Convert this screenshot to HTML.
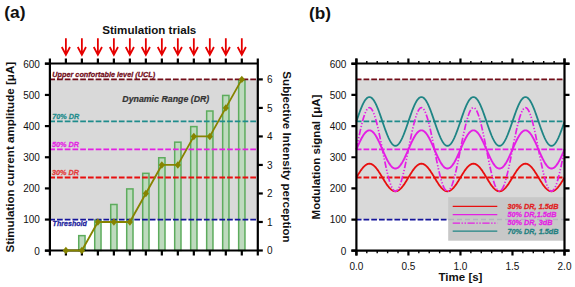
<!DOCTYPE html>
<html><head><meta charset="utf-8"><style>
html,body{margin:0;padding:0;background:#fff;}
body{width:575px;height:287px;overflow:hidden;}
svg{display:block;font-family:"Liberation Sans", sans-serif;}
</style></head><body>
<svg width="575" height="287" viewBox="0 0 575 287">
<rect x="49.9" y="79.36" width="207.90" height="140.20" fill="#d9d9d9"/>
<rect x="78.73" y="235.64" width="6.3" height="14.86" fill="#bedabe" stroke="#5dac5d" stroke-width="1.5"/>
<rect x="94.73" y="220.06" width="6.3" height="30.44" fill="#bedabe" stroke="#5dac5d" stroke-width="1.5"/>
<rect x="110.72" y="204.49" width="6.3" height="46.01" fill="#bedabe" stroke="#5dac5d" stroke-width="1.5"/>
<rect x="126.71" y="188.91" width="6.3" height="61.59" fill="#bedabe" stroke="#5dac5d" stroke-width="1.5"/>
<rect x="142.70" y="173.33" width="6.3" height="77.17" fill="#bedabe" stroke="#5dac5d" stroke-width="1.5"/>
<rect x="158.70" y="157.75" width="6.3" height="92.75" fill="#bedabe" stroke="#5dac5d" stroke-width="1.5"/>
<rect x="174.69" y="142.17" width="6.3" height="108.33" fill="#bedabe" stroke="#5dac5d" stroke-width="1.5"/>
<rect x="190.68" y="126.60" width="6.3" height="123.90" fill="#bedabe" stroke="#5dac5d" stroke-width="1.5"/>
<rect x="206.67" y="111.02" width="6.3" height="139.48" fill="#bedabe" stroke="#5dac5d" stroke-width="1.5"/>
<rect x="222.67" y="95.44" width="6.3" height="155.06" fill="#bedabe" stroke="#5dac5d" stroke-width="1.5"/>
<rect x="238.66" y="79.86" width="6.3" height="170.64" fill="#bedabe" stroke="#5dac5d" stroke-width="1.5"/>
<line x1="49.90" y1="79.36" x2="257.80" y2="79.36" stroke="#720c18" stroke-width="1.8" stroke-dasharray="5.7 2.03" stroke-dashoffset="0.6"/>
<line x1="49.90" y1="121.42" x2="257.80" y2="121.42" stroke="#1f8c8c" stroke-width="1.8" stroke-dasharray="5.7 2.03" stroke-dashoffset="0.6"/>
<line x1="49.90" y1="149.46" x2="257.80" y2="149.46" stroke="#e41fe4" stroke-width="1.8" stroke-dasharray="5.7 2.03" stroke-dashoffset="0.6"/>
<line x1="49.90" y1="177.50" x2="257.80" y2="177.50" stroke="#e80f0f" stroke-width="1.8" stroke-dasharray="5.7 2.03" stroke-dashoffset="0.6"/>
<line x1="49.90" y1="219.56" x2="257.80" y2="219.56" stroke="#14149a" stroke-width="1.8" stroke-dasharray="5.7 2.03" stroke-dashoffset="0.6"/>
<text x="0" y="0" font-size="7.3" fill="#720c18" font-weight="bold" font-style="italic" text-anchor="start" stroke="#720c18" stroke-width="0.25" transform="translate(52.30,77.00) scale(1,1.1)">Upper confortable level (UCL)</text>
<text x="0" y="0" font-size="8.8" fill="#333333" font-weight="bold" font-style="italic" text-anchor="start" stroke="#333333" stroke-width="0.2" transform="translate(122.30,102.30) scale(1,1.05)">Dynamic Range (DR)</text>
<text x="0" y="0" font-size="7.3" fill="#1f8c8c" font-weight="bold" font-style="italic" text-anchor="start" stroke="#1f8c8c" stroke-width="0.25" transform="translate(52.20,119.20) scale(1,1.1)">70% DR</text>
<text x="0" y="0" font-size="7.3" fill="#e41fe4" font-weight="bold" font-style="italic" text-anchor="start" stroke="#e41fe4" stroke-width="0.25" transform="translate(52.00,146.70) scale(1,1.1)">50% DR</text>
<text x="0" y="0" font-size="7.3" fill="#e43a3a" font-weight="bold" font-style="italic" text-anchor="start" stroke="#e43a3a" stroke-width="0.25" transform="translate(52.00,175.30) scale(1,1.1)">30% DR</text>
<text x="0" y="0" font-size="7.1" fill="#1c1c9c" font-weight="bold" font-style="italic" text-anchor="start" stroke="#1c1c9c" stroke-width="0.25" transform="translate(52.60,226.30) scale(1,1.1)">Threshold</text>
<g stroke="#000" stroke-width="2.2" fill="none">
<path d="M49.9,58.5 V255.5 M257.8,58.5 V255.5 M44.9,63.5 H257.8 M44.9,250.5 H257.8"/>
<path d="M44.9,250.72 H49.9"/>
<path d="M44.9,219.56 H49.9"/>
<path d="M44.9,188.41 H49.9"/>
<path d="M44.9,157.25 H49.9"/>
<path d="M44.9,126.10 H49.9"/>
<path d="M44.9,94.94 H49.9"/>
<path d="M44.9,63.78 H49.9"/>
<path d="M257.8,250.50 H262.8"/>
<path d="M257.8,221.98 H262.8"/>
<path d="M257.8,193.47 H262.8"/>
<path d="M257.8,164.95 H262.8"/>
<path d="M257.8,136.43 H262.8"/>
<path d="M257.8,107.92 H262.8"/>
<path d="M257.8,79.40 H262.8"/>
<path d="M65.89,58.5 V63.5 M65.89,250.5 V255.5"/>
<path d="M81.88,58.5 V63.5 M81.88,250.5 V255.5"/>
<path d="M97.88,58.5 V63.5 M97.88,250.5 V255.5"/>
<path d="M113.87,58.5 V63.5 M113.87,250.5 V255.5"/>
<path d="M129.86,58.5 V63.5 M129.86,250.5 V255.5"/>
<path d="M145.85,58.5 V63.5 M145.85,250.5 V255.5"/>
<path d="M161.85,58.5 V63.5 M161.85,250.5 V255.5"/>
<path d="M177.84,58.5 V63.5 M177.84,250.5 V255.5"/>
<path d="M193.83,58.5 V63.5 M193.83,250.5 V255.5"/>
<path d="M209.82,58.5 V63.5 M209.82,250.5 V255.5"/>
<path d="M225.82,58.5 V63.5 M225.82,250.5 V255.5"/>
<path d="M241.81,58.5 V63.5 M241.81,250.5 V255.5"/>
</g>
<polyline points="65.89,250.50 81.88,250.50 97.88,221.98 113.87,221.98 129.86,221.98 145.85,193.47 161.85,164.95 177.84,164.95 193.83,136.43 209.82,136.43 225.82,107.92 241.81,79.40" fill="none" stroke="#868400" stroke-width="1.8"/>
<path d="M65.89,246.80 L68.99,250.50 L65.89,254.20 L62.79,250.50 Z" fill="#868400"/>
<path d="M81.88,246.80 L84.98,250.50 L81.88,254.20 L78.78,250.50 Z" fill="#868400"/>
<path d="M97.88,218.28 L100.98,221.98 L97.88,225.68 L94.78,221.98 Z" fill="#868400"/>
<path d="M113.87,218.28 L116.97,221.98 L113.87,225.68 L110.77,221.98 Z" fill="#868400"/>
<path d="M129.86,218.28 L132.96,221.98 L129.86,225.68 L126.76,221.98 Z" fill="#868400"/>
<path d="M145.85,189.77 L148.95,193.47 L145.85,197.17 L142.75,193.47 Z" fill="#868400"/>
<path d="M161.85,161.25 L164.95,164.95 L161.85,168.65 L158.75,164.95 Z" fill="#868400"/>
<path d="M177.84,161.25 L180.94,164.95 L177.84,168.65 L174.74,164.95 Z" fill="#868400"/>
<path d="M193.83,132.73 L196.93,136.43 L193.83,140.13 L190.73,136.43 Z" fill="#868400"/>
<path d="M209.82,132.73 L212.92,136.43 L209.82,140.13 L206.72,136.43 Z" fill="#868400"/>
<path d="M225.82,104.22 L228.92,107.92 L225.82,111.62 L222.72,107.92 Z" fill="#868400"/>
<path d="M241.81,75.70 L244.91,79.40 L241.81,83.10 L238.71,79.40 Z" fill="#868400"/>
<text x="39.90" y="254.52" font-size="10" fill="#111" font-weight="normal" font-style="normal" text-anchor="end" >0</text>
<text x="39.90" y="223.36" font-size="10" fill="#111" font-weight="normal" font-style="normal" text-anchor="end" >100</text>
<text x="39.90" y="192.21" font-size="10" fill="#111" font-weight="normal" font-style="normal" text-anchor="end" >200</text>
<text x="39.90" y="161.05" font-size="10" fill="#111" font-weight="normal" font-style="normal" text-anchor="end" >300</text>
<text x="39.90" y="129.90" font-size="10" fill="#111" font-weight="normal" font-style="normal" text-anchor="end" >400</text>
<text x="39.90" y="98.74" font-size="10" fill="#111" font-weight="normal" font-style="normal" text-anchor="end" >500</text>
<text x="39.90" y="67.58" font-size="10" fill="#111" font-weight="normal" font-style="normal" text-anchor="end" >600</text>
<text x="266.90" y="254.10" font-size="10" fill="#111" font-weight="normal" font-style="normal" text-anchor="start" >0</text>
<text x="266.90" y="225.58" font-size="10" fill="#111" font-weight="normal" font-style="normal" text-anchor="start" >1</text>
<text x="266.90" y="197.07" font-size="10" fill="#111" font-weight="normal" font-style="normal" text-anchor="start" >2</text>
<text x="266.90" y="168.55" font-size="10" fill="#111" font-weight="normal" font-style="normal" text-anchor="start" >3</text>
<text x="266.90" y="140.03" font-size="10" fill="#111" font-weight="normal" font-style="normal" text-anchor="start" >4</text>
<text x="266.90" y="111.52" font-size="10" fill="#111" font-weight="normal" font-style="normal" text-anchor="start" >5</text>
<text x="266.90" y="83.00" font-size="10" fill="#111" font-weight="normal" font-style="normal" text-anchor="start" >6</text>
<g stroke="#e60000" stroke-width="1.8" fill="none" stroke-linecap="butt">
<path d="M65.89,38.3 V54.5 M61.79,47.0 L65.89,54.8 L69.99,47.0"/>
<path d="M81.88,38.3 V54.5 M77.78,47.0 L81.88,54.8 L85.98,47.0"/>
<path d="M97.88,38.3 V54.5 M93.78,47.0 L97.88,54.8 L101.98,47.0"/>
<path d="M113.87,38.3 V54.5 M109.77,47.0 L113.87,54.8 L117.97,47.0"/>
<path d="M129.86,38.3 V54.5 M125.76,47.0 L129.86,54.8 L133.96,47.0"/>
<path d="M145.85,38.3 V54.5 M141.75,47.0 L145.85,54.8 L149.95,47.0"/>
<path d="M161.85,38.3 V54.5 M157.75,47.0 L161.85,54.8 L165.95,47.0"/>
<path d="M177.84,38.3 V54.5 M173.74,47.0 L177.84,54.8 L181.94,47.0"/>
<path d="M193.83,38.3 V54.5 M189.73,47.0 L193.83,54.8 L197.93,47.0"/>
<path d="M209.82,38.3 V54.5 M205.72,47.0 L209.82,54.8 L213.92,47.0"/>
<path d="M225.82,38.3 V54.5 M221.72,47.0 L225.82,54.8 L229.92,47.0"/>
<path d="M241.81,38.3 V54.5 M237.71,47.0 L241.81,54.8 L245.91,47.0"/>
</g>
<text x="149.30" y="33.80" font-size="11.6" fill="#111" font-weight="bold" font-style="normal" text-anchor="middle" >Stimulation trials</text>
<text x="0.00" y="0.00" font-size="11.6" fill="#111" font-weight="bold" font-style="normal" text-anchor="middle" transform="translate(14.2,157.2) rotate(-90)">Stimulation current amplitude [&#956;A]</text>
<text x="0.00" y="0.00" font-size="11.6" fill="#111" font-weight="bold" font-style="normal" text-anchor="middle" transform="translate(282.6,157) rotate(90)">Subjective Intensity perception</text>
<text x="4.20" y="18.30" font-size="17.4" fill="#111" font-weight="bold" font-style="normal" text-anchor="start" >(a)</text>
<rect x="356.4" y="79.36" width="208.10" height="140.20" fill="#d9d9d9"/>
<line x1="356.40" y1="79.36" x2="564.50" y2="79.36" stroke="#720c18" stroke-width="1.8" stroke-dasharray="5.7 2.03" stroke-dashoffset="0.6"/>
<line x1="356.40" y1="121.42" x2="564.50" y2="121.42" stroke="#1f8c8c" stroke-width="1.8" stroke-dasharray="5.7 2.03" stroke-dashoffset="0.6"/>
<line x1="356.40" y1="149.46" x2="564.50" y2="149.46" stroke="#e41fe4" stroke-width="1.8" stroke-dasharray="5.7 2.03" stroke-dashoffset="0.6"/>
<line x1="356.40" y1="177.50" x2="564.50" y2="177.50" stroke="#e80f0f" stroke-width="1.8" stroke-dasharray="5.7 2.03" stroke-dashoffset="0.6"/>
<line x1="356.40" y1="219.56" x2="564.50" y2="219.56" stroke="#14149a" stroke-width="1.8" stroke-dasharray="5.7 2.03" stroke-dashoffset="0.6"/>
<path d="M356.40,177.50 L356.92,176.64 L357.44,175.77 L357.96,174.92 L358.48,174.07 L359.00,173.24 L359.52,172.42 L360.04,171.63 L360.56,170.85 L361.08,170.11 L361.60,169.39 L362.12,168.71 L362.64,168.06 L363.16,167.44 L363.68,166.87 L364.20,166.34 L364.72,165.85 L365.24,165.41 L365.76,165.02 L366.28,164.67 L366.80,164.38 L367.33,164.14 L367.85,163.95 L368.37,163.81 L368.89,163.73 L369.41,163.70 L369.93,163.73 L370.45,163.81 L370.97,163.95 L371.49,164.14 L372.01,164.38 L372.53,164.67 L373.05,165.02 L373.57,165.41 L374.09,165.85 L374.61,166.34 L375.13,166.87 L375.65,167.44 L376.17,168.06 L376.69,168.71 L377.21,169.39 L377.73,170.11 L378.25,170.85 L378.77,171.63 L379.29,172.42 L379.81,173.24 L380.33,174.07 L380.85,174.92 L381.37,175.77 L381.89,176.64 L382.41,177.50 L382.93,178.37 L383.45,179.23 L383.97,180.09 L384.49,180.94 L385.01,181.77 L385.53,182.58 L386.05,183.38 L386.57,184.15 L387.09,184.90 L387.62,185.62 L388.14,186.30 L388.66,186.95 L389.18,187.56 L389.70,188.14 L390.22,188.67 L390.74,189.16 L391.26,189.60 L391.78,189.99 L392.30,190.34 L392.82,190.63 L393.34,190.87 L393.86,191.06 L394.38,191.20 L394.90,191.28 L395.42,191.30 L395.94,191.28 L396.46,191.20 L396.98,191.06 L397.50,190.87 L398.02,190.63 L398.54,190.34 L399.06,189.99 L399.58,189.60 L400.10,189.16 L400.62,188.67 L401.14,188.14 L401.66,187.56 L402.18,186.95 L402.70,186.30 L403.22,185.62 L403.74,184.90 L404.26,184.15 L404.78,183.38 L405.30,182.58 L405.82,181.77 L406.34,180.94 L406.86,180.09 L407.38,179.23 L407.90,178.37 L408.42,177.50 L408.95,176.64 L409.47,175.77 L409.99,174.92 L410.51,174.07 L411.03,173.24 L411.55,172.42 L412.07,171.63 L412.59,170.85 L413.11,170.11 L413.63,169.39 L414.15,168.71 L414.67,168.06 L415.19,167.44 L415.71,166.87 L416.23,166.34 L416.75,165.85 L417.27,165.41 L417.79,165.02 L418.31,164.67 L418.83,164.38 L419.35,164.14 L419.87,163.95 L420.39,163.81 L420.91,163.73 L421.43,163.70 L421.95,163.73 L422.47,163.81 L422.99,163.95 L423.51,164.14 L424.03,164.38 L424.55,164.67 L425.07,165.02 L425.59,165.41 L426.11,165.85 L426.63,166.34 L427.15,166.87 L427.67,167.44 L428.19,168.06 L428.71,168.71 L429.24,169.39 L429.76,170.11 L430.28,170.85 L430.80,171.63 L431.32,172.42 L431.84,173.24 L432.36,174.07 L432.88,174.92 L433.40,175.77 L433.92,176.64 L434.44,177.50 L434.96,178.37 L435.48,179.23 L436.00,180.09 L436.52,180.94 L437.04,181.77 L437.56,182.58 L438.08,183.38 L438.60,184.15 L439.12,184.90 L439.64,185.62 L440.16,186.30 L440.68,186.95 L441.20,187.56 L441.72,188.14 L442.24,188.67 L442.76,189.16 L443.28,189.60 L443.80,189.99 L444.32,190.34 L444.84,190.63 L445.36,190.87 L445.88,191.06 L446.40,191.20 L446.92,191.28 L447.44,191.30 L447.96,191.28 L448.48,191.20 L449.00,191.06 L449.52,190.87 L450.04,190.63 L450.57,190.34 L451.09,189.99 L451.61,189.60 L452.13,189.16 L452.65,188.67 L453.17,188.14 L453.69,187.56 L454.21,186.95 L454.73,186.30 L455.25,185.62 L455.77,184.90 L456.29,184.15 L456.81,183.38 L457.33,182.58 L457.85,181.77 L458.37,180.94 L458.89,180.09 L459.41,179.23 L459.93,178.37 L460.45,177.50 L460.97,176.64 L461.49,175.77 L462.01,174.92 L462.53,174.07 L463.05,173.24 L463.57,172.42 L464.09,171.63 L464.61,170.85 L465.13,170.11 L465.65,169.39 L466.17,168.71 L466.69,168.06 L467.21,167.44 L467.73,166.87 L468.25,166.34 L468.77,165.85 L469.29,165.41 L469.81,165.02 L470.33,164.67 L470.86,164.38 L471.38,164.14 L471.90,163.95 L472.42,163.81 L472.94,163.73 L473.46,163.70 L473.98,163.73 L474.50,163.81 L475.02,163.95 L475.54,164.14 L476.06,164.38 L476.58,164.67 L477.10,165.02 L477.62,165.41 L478.14,165.85 L478.66,166.34 L479.18,166.87 L479.70,167.44 L480.22,168.06 L480.74,168.71 L481.26,169.39 L481.78,170.11 L482.30,170.85 L482.82,171.63 L483.34,172.42 L483.86,173.24 L484.38,174.07 L484.90,174.92 L485.42,175.77 L485.94,176.64 L486.46,177.50 L486.98,178.37 L487.50,179.23 L488.02,180.09 L488.54,180.94 L489.06,181.77 L489.58,182.58 L490.10,183.38 L490.62,184.15 L491.14,184.90 L491.66,185.62 L492.19,186.30 L492.71,186.95 L493.23,187.56 L493.75,188.14 L494.27,188.67 L494.79,189.16 L495.31,189.60 L495.83,189.99 L496.35,190.34 L496.87,190.63 L497.39,190.87 L497.91,191.06 L498.43,191.20 L498.95,191.28 L499.47,191.30 L499.99,191.28 L500.51,191.20 L501.03,191.06 L501.55,190.87 L502.07,190.63 L502.59,190.34 L503.11,189.99 L503.63,189.60 L504.15,189.16 L504.67,188.67 L505.19,188.14 L505.71,187.56 L506.23,186.95 L506.75,186.30 L507.27,185.62 L507.79,184.90 L508.31,184.15 L508.83,183.38 L509.35,182.58 L509.87,181.77 L510.39,180.94 L510.91,180.09 L511.43,179.23 L511.95,178.37 L512.48,177.50 L513.00,176.64 L513.52,175.77 L514.04,174.92 L514.56,174.07 L515.08,173.24 L515.60,172.42 L516.12,171.63 L516.64,170.85 L517.16,170.11 L517.68,169.39 L518.20,168.71 L518.72,168.06 L519.24,167.44 L519.76,166.87 L520.28,166.34 L520.80,165.85 L521.32,165.41 L521.84,165.02 L522.36,164.67 L522.88,164.38 L523.40,164.14 L523.92,163.95 L524.44,163.81 L524.96,163.73 L525.48,163.70 L526.00,163.73 L526.52,163.81 L527.04,163.95 L527.56,164.14 L528.08,164.38 L528.60,164.67 L529.12,165.02 L529.64,165.41 L530.16,165.85 L530.68,166.34 L531.20,166.87 L531.72,167.44 L532.24,168.06 L532.76,168.71 L533.28,169.39 L533.81,170.11 L534.33,170.85 L534.85,171.63 L535.37,172.42 L535.89,173.24 L536.41,174.07 L536.93,174.92 L537.45,175.77 L537.97,176.64 L538.49,177.50 L539.01,178.37 L539.53,179.23 L540.05,180.09 L540.57,180.94 L541.09,181.77 L541.61,182.58 L542.13,183.38 L542.65,184.15 L543.17,184.90 L543.69,185.62 L544.21,186.30 L544.73,186.95 L545.25,187.56 L545.77,188.14 L546.29,188.67 L546.81,189.16 L547.33,189.60 L547.85,189.99 L548.37,190.34 L548.89,190.63 L549.41,190.87 L549.93,191.06 L550.45,191.20 L550.97,191.28 L551.49,191.30 L552.01,191.28 L552.53,191.20 L553.05,191.06 L553.57,190.87 L554.10,190.63 L554.62,190.34 L555.14,189.99 L555.66,189.60 L556.18,189.16 L556.70,188.67 L557.22,188.14 L557.74,187.56 L558.26,186.95 L558.78,186.30 L559.30,185.62 L559.82,184.90 L560.34,184.15 L560.86,183.38 L561.38,182.58 L561.90,181.77 L562.42,180.94 L562.94,180.09 L563.46,179.23 L563.98,178.37 L564.50,177.50" fill="none" stroke="#e80f0f" stroke-width="1.8"/>
<path d="M356.40,121.42 L356.92,119.89 L357.44,118.37 L357.96,116.86 L358.48,115.36 L359.00,113.89 L359.52,112.45 L360.04,111.05 L360.56,109.68 L361.08,108.36 L361.60,107.10 L362.12,105.89 L362.64,104.74 L363.16,103.66 L363.68,102.64 L364.20,101.70 L364.72,100.84 L365.24,100.06 L365.76,99.37 L366.28,98.76 L366.80,98.24 L367.33,97.82 L367.85,97.48 L368.37,97.24 L368.89,97.10 L369.41,97.05 L369.93,97.10 L370.45,97.24 L370.97,97.48 L371.49,97.82 L372.01,98.24 L372.53,98.76 L373.05,99.37 L373.57,100.06 L374.09,100.84 L374.61,101.70 L375.13,102.64 L375.65,103.66 L376.17,104.74 L376.69,105.89 L377.21,107.10 L377.73,108.36 L378.25,109.68 L378.77,111.05 L379.29,112.45 L379.81,113.89 L380.33,115.36 L380.85,116.86 L381.37,118.37 L381.89,119.89 L382.41,121.42 L382.93,122.95 L383.45,124.48 L383.97,125.99 L384.49,127.48 L385.01,128.95 L385.53,130.39 L386.05,131.80 L386.57,133.16 L387.09,134.48 L387.62,135.75 L388.14,136.96 L388.66,138.11 L389.18,139.19 L389.70,140.20 L390.22,141.14 L390.74,142.00 L391.26,142.78 L391.78,143.48 L392.30,144.08 L392.82,144.60 L393.34,145.03 L393.86,145.36 L394.38,145.60 L394.90,145.75 L395.42,145.80 L395.94,145.75 L396.46,145.60 L396.98,145.36 L397.50,145.03 L398.02,144.60 L398.54,144.08 L399.06,143.48 L399.58,142.78 L400.10,142.00 L400.62,141.14 L401.14,140.20 L401.66,139.19 L402.18,138.11 L402.70,136.96 L403.22,135.75 L403.74,134.48 L404.26,133.16 L404.78,131.80 L405.30,130.39 L405.82,128.95 L406.34,127.48 L406.86,125.99 L407.38,124.48 L407.90,122.95 L408.42,121.42 L408.95,119.89 L409.47,118.37 L409.99,116.86 L410.51,115.36 L411.03,113.89 L411.55,112.45 L412.07,111.05 L412.59,109.68 L413.11,108.36 L413.63,107.10 L414.15,105.89 L414.67,104.74 L415.19,103.66 L415.71,102.64 L416.23,101.70 L416.75,100.84 L417.27,100.06 L417.79,99.37 L418.31,98.76 L418.83,98.24 L419.35,97.82 L419.87,97.48 L420.39,97.24 L420.91,97.10 L421.43,97.05 L421.95,97.10 L422.47,97.24 L422.99,97.48 L423.51,97.82 L424.03,98.24 L424.55,98.76 L425.07,99.37 L425.59,100.06 L426.11,100.84 L426.63,101.70 L427.15,102.64 L427.67,103.66 L428.19,104.74 L428.71,105.89 L429.24,107.10 L429.76,108.36 L430.28,109.68 L430.80,111.05 L431.32,112.45 L431.84,113.89 L432.36,115.36 L432.88,116.86 L433.40,118.37 L433.92,119.89 L434.44,121.42 L434.96,122.95 L435.48,124.48 L436.00,125.99 L436.52,127.48 L437.04,128.95 L437.56,130.39 L438.08,131.80 L438.60,133.16 L439.12,134.48 L439.64,135.75 L440.16,136.96 L440.68,138.11 L441.20,139.19 L441.72,140.20 L442.24,141.14 L442.76,142.00 L443.28,142.78 L443.80,143.48 L444.32,144.08 L444.84,144.60 L445.36,145.03 L445.88,145.36 L446.40,145.60 L446.92,145.75 L447.44,145.80 L447.96,145.75 L448.48,145.60 L449.00,145.36 L449.52,145.03 L450.04,144.60 L450.57,144.08 L451.09,143.48 L451.61,142.78 L452.13,142.00 L452.65,141.14 L453.17,140.20 L453.69,139.19 L454.21,138.11 L454.73,136.96 L455.25,135.75 L455.77,134.48 L456.29,133.16 L456.81,131.80 L457.33,130.39 L457.85,128.95 L458.37,127.48 L458.89,125.99 L459.41,124.48 L459.93,122.95 L460.45,121.42 L460.97,119.89 L461.49,118.37 L462.01,116.86 L462.53,115.36 L463.05,113.89 L463.57,112.45 L464.09,111.05 L464.61,109.68 L465.13,108.36 L465.65,107.10 L466.17,105.89 L466.69,104.74 L467.21,103.66 L467.73,102.64 L468.25,101.70 L468.77,100.84 L469.29,100.06 L469.81,99.37 L470.33,98.76 L470.86,98.24 L471.38,97.82 L471.90,97.48 L472.42,97.24 L472.94,97.10 L473.46,97.05 L473.98,97.10 L474.50,97.24 L475.02,97.48 L475.54,97.82 L476.06,98.24 L476.58,98.76 L477.10,99.37 L477.62,100.06 L478.14,100.84 L478.66,101.70 L479.18,102.64 L479.70,103.66 L480.22,104.74 L480.74,105.89 L481.26,107.10 L481.78,108.36 L482.30,109.68 L482.82,111.05 L483.34,112.45 L483.86,113.89 L484.38,115.36 L484.90,116.86 L485.42,118.37 L485.94,119.89 L486.46,121.42 L486.98,122.95 L487.50,124.48 L488.02,125.99 L488.54,127.48 L489.06,128.95 L489.58,130.39 L490.10,131.80 L490.62,133.16 L491.14,134.48 L491.66,135.75 L492.19,136.96 L492.71,138.11 L493.23,139.19 L493.75,140.20 L494.27,141.14 L494.79,142.00 L495.31,142.78 L495.83,143.48 L496.35,144.08 L496.87,144.60 L497.39,145.03 L497.91,145.36 L498.43,145.60 L498.95,145.75 L499.47,145.80 L499.99,145.75 L500.51,145.60 L501.03,145.36 L501.55,145.03 L502.07,144.60 L502.59,144.08 L503.11,143.48 L503.63,142.78 L504.15,142.00 L504.67,141.14 L505.19,140.20 L505.71,139.19 L506.23,138.11 L506.75,136.96 L507.27,135.75 L507.79,134.48 L508.31,133.16 L508.83,131.80 L509.35,130.39 L509.87,128.95 L510.39,127.48 L510.91,125.99 L511.43,124.48 L511.95,122.95 L512.48,121.42 L513.00,119.89 L513.52,118.37 L514.04,116.86 L514.56,115.36 L515.08,113.89 L515.60,112.45 L516.12,111.05 L516.64,109.68 L517.16,108.36 L517.68,107.10 L518.20,105.89 L518.72,104.74 L519.24,103.66 L519.76,102.64 L520.28,101.70 L520.80,100.84 L521.32,100.06 L521.84,99.37 L522.36,98.76 L522.88,98.24 L523.40,97.82 L523.92,97.48 L524.44,97.24 L524.96,97.10 L525.48,97.05 L526.00,97.10 L526.52,97.24 L527.04,97.48 L527.56,97.82 L528.08,98.24 L528.60,98.76 L529.12,99.37 L529.64,100.06 L530.16,100.84 L530.68,101.70 L531.20,102.64 L531.72,103.66 L532.24,104.74 L532.76,105.89 L533.28,107.10 L533.81,108.36 L534.33,109.68 L534.85,111.05 L535.37,112.45 L535.89,113.89 L536.41,115.36 L536.93,116.86 L537.45,118.37 L537.97,119.89 L538.49,121.42 L539.01,122.95 L539.53,124.48 L540.05,125.99 L540.57,127.48 L541.09,128.95 L541.61,130.39 L542.13,131.80 L542.65,133.16 L543.17,134.48 L543.69,135.75 L544.21,136.96 L544.73,138.11 L545.25,139.19 L545.77,140.20 L546.29,141.14 L546.81,142.00 L547.33,142.78 L547.85,143.48 L548.37,144.08 L548.89,144.60 L549.41,145.03 L549.93,145.36 L550.45,145.60 L550.97,145.75 L551.49,145.80 L552.01,145.75 L552.53,145.60 L553.05,145.36 L553.57,145.03 L554.10,144.60 L554.62,144.08 L555.14,143.48 L555.66,142.78 L556.18,142.00 L556.70,141.14 L557.22,140.20 L557.74,139.19 L558.26,138.11 L558.78,136.96 L559.30,135.75 L559.82,134.48 L560.34,133.16 L560.86,131.80 L561.38,130.39 L561.90,128.95 L562.42,127.48 L562.94,125.99 L563.46,124.48 L563.98,122.95 L564.50,121.42" fill="none" stroke="#1f8585" stroke-width="1.8"/>
<path d="M356.40,149.46 L356.92,148.26 L357.44,147.07 L357.96,145.89 L358.48,144.72 L359.00,143.56 L359.52,142.44 L360.04,141.34 L360.56,140.27 L361.08,139.24 L361.60,138.24 L362.12,137.30 L362.64,136.40 L363.16,135.55 L363.68,134.76 L364.20,134.02 L364.72,133.35 L365.24,132.74 L365.76,132.19 L366.28,131.72 L366.80,131.31 L367.33,130.98 L367.85,130.71 L368.37,130.53 L368.89,130.41 L369.41,130.38 L369.93,130.41 L370.45,130.53 L370.97,130.71 L371.49,130.98 L372.01,131.31 L372.53,131.72 L373.05,132.19 L373.57,132.74 L374.09,133.35 L374.61,134.02 L375.13,134.76 L375.65,135.55 L376.17,136.40 L376.69,137.30 L377.21,138.24 L377.73,139.24 L378.25,140.27 L378.77,141.34 L379.29,142.44 L379.81,143.56 L380.33,144.72 L380.85,145.89 L381.37,147.07 L381.89,148.26 L382.41,149.46 L382.93,150.66 L383.45,151.86 L383.97,153.04 L384.49,154.21 L385.01,155.36 L385.53,156.49 L386.05,157.59 L386.57,158.66 L387.09,159.69 L387.62,160.68 L388.14,161.63 L388.66,162.53 L389.18,163.38 L389.70,164.17 L390.22,164.90 L390.74,165.58 L391.26,166.19 L391.78,166.73 L392.30,167.21 L392.82,167.62 L393.34,167.95 L393.86,168.21 L394.38,168.40 L394.90,168.51 L395.42,168.55 L395.94,168.51 L396.46,168.40 L396.98,168.21 L397.50,167.95 L398.02,167.62 L398.54,167.21 L399.06,166.73 L399.58,166.19 L400.10,165.58 L400.62,164.90 L401.14,164.17 L401.66,163.38 L402.18,162.53 L402.70,161.63 L403.22,160.68 L403.74,159.69 L404.26,158.66 L404.78,157.59 L405.30,156.49 L405.82,155.36 L406.34,154.21 L406.86,153.04 L407.38,151.86 L407.90,150.66 L408.42,149.46 L408.95,148.26 L409.47,147.07 L409.99,145.89 L410.51,144.72 L411.03,143.56 L411.55,142.44 L412.07,141.34 L412.59,140.27 L413.11,139.24 L413.63,138.24 L414.15,137.30 L414.67,136.40 L415.19,135.55 L415.71,134.76 L416.23,134.02 L416.75,133.35 L417.27,132.74 L417.79,132.19 L418.31,131.72 L418.83,131.31 L419.35,130.98 L419.87,130.71 L420.39,130.53 L420.91,130.41 L421.43,130.38 L421.95,130.41 L422.47,130.53 L422.99,130.71 L423.51,130.98 L424.03,131.31 L424.55,131.72 L425.07,132.19 L425.59,132.74 L426.11,133.35 L426.63,134.02 L427.15,134.76 L427.67,135.55 L428.19,136.40 L428.71,137.30 L429.24,138.24 L429.76,139.24 L430.28,140.27 L430.80,141.34 L431.32,142.44 L431.84,143.56 L432.36,144.72 L432.88,145.89 L433.40,147.07 L433.92,148.26 L434.44,149.46 L434.96,150.66 L435.48,151.86 L436.00,153.04 L436.52,154.21 L437.04,155.36 L437.56,156.49 L438.08,157.59 L438.60,158.66 L439.12,159.69 L439.64,160.68 L440.16,161.63 L440.68,162.53 L441.20,163.38 L441.72,164.17 L442.24,164.90 L442.76,165.58 L443.28,166.19 L443.80,166.73 L444.32,167.21 L444.84,167.62 L445.36,167.95 L445.88,168.21 L446.40,168.40 L446.92,168.51 L447.44,168.55 L447.96,168.51 L448.48,168.40 L449.00,168.21 L449.52,167.95 L450.04,167.62 L450.57,167.21 L451.09,166.73 L451.61,166.19 L452.13,165.58 L452.65,164.90 L453.17,164.17 L453.69,163.38 L454.21,162.53 L454.73,161.63 L455.25,160.68 L455.77,159.69 L456.29,158.66 L456.81,157.59 L457.33,156.49 L457.85,155.36 L458.37,154.21 L458.89,153.04 L459.41,151.86 L459.93,150.66 L460.45,149.46 L460.97,148.26 L461.49,147.07 L462.01,145.89 L462.53,144.72 L463.05,143.56 L463.57,142.44 L464.09,141.34 L464.61,140.27 L465.13,139.24 L465.65,138.24 L466.17,137.30 L466.69,136.40 L467.21,135.55 L467.73,134.76 L468.25,134.02 L468.77,133.35 L469.29,132.74 L469.81,132.19 L470.33,131.72 L470.86,131.31 L471.38,130.98 L471.90,130.71 L472.42,130.53 L472.94,130.41 L473.46,130.38 L473.98,130.41 L474.50,130.53 L475.02,130.71 L475.54,130.98 L476.06,131.31 L476.58,131.72 L477.10,132.19 L477.62,132.74 L478.14,133.35 L478.66,134.02 L479.18,134.76 L479.70,135.55 L480.22,136.40 L480.74,137.30 L481.26,138.24 L481.78,139.24 L482.30,140.27 L482.82,141.34 L483.34,142.44 L483.86,143.56 L484.38,144.72 L484.90,145.89 L485.42,147.07 L485.94,148.26 L486.46,149.46 L486.98,150.66 L487.50,151.86 L488.02,153.04 L488.54,154.21 L489.06,155.36 L489.58,156.49 L490.10,157.59 L490.62,158.66 L491.14,159.69 L491.66,160.68 L492.19,161.63 L492.71,162.53 L493.23,163.38 L493.75,164.17 L494.27,164.90 L494.79,165.58 L495.31,166.19 L495.83,166.73 L496.35,167.21 L496.87,167.62 L497.39,167.95 L497.91,168.21 L498.43,168.40 L498.95,168.51 L499.47,168.55 L499.99,168.51 L500.51,168.40 L501.03,168.21 L501.55,167.95 L502.07,167.62 L502.59,167.21 L503.11,166.73 L503.63,166.19 L504.15,165.58 L504.67,164.90 L505.19,164.17 L505.71,163.38 L506.23,162.53 L506.75,161.63 L507.27,160.68 L507.79,159.69 L508.31,158.66 L508.83,157.59 L509.35,156.49 L509.87,155.36 L510.39,154.21 L510.91,153.04 L511.43,151.86 L511.95,150.66 L512.48,149.46 L513.00,148.26 L513.52,147.07 L514.04,145.89 L514.56,144.72 L515.08,143.56 L515.60,142.44 L516.12,141.34 L516.64,140.27 L517.16,139.24 L517.68,138.24 L518.20,137.30 L518.72,136.40 L519.24,135.55 L519.76,134.76 L520.28,134.02 L520.80,133.35 L521.32,132.74 L521.84,132.19 L522.36,131.72 L522.88,131.31 L523.40,130.98 L523.92,130.71 L524.44,130.53 L524.96,130.41 L525.48,130.38 L526.00,130.41 L526.52,130.53 L527.04,130.71 L527.56,130.98 L528.08,131.31 L528.60,131.72 L529.12,132.19 L529.64,132.74 L530.16,133.35 L530.68,134.02 L531.20,134.76 L531.72,135.55 L532.24,136.40 L532.76,137.30 L533.28,138.24 L533.81,139.24 L534.33,140.27 L534.85,141.34 L535.37,142.44 L535.89,143.56 L536.41,144.72 L536.93,145.89 L537.45,147.07 L537.97,148.26 L538.49,149.46 L539.01,150.66 L539.53,151.86 L540.05,153.04 L540.57,154.21 L541.09,155.36 L541.61,156.49 L542.13,157.59 L542.65,158.66 L543.17,159.69 L543.69,160.68 L544.21,161.63 L544.73,162.53 L545.25,163.38 L545.77,164.17 L546.29,164.90 L546.81,165.58 L547.33,166.19 L547.85,166.73 L548.37,167.21 L548.89,167.62 L549.41,167.95 L549.93,168.21 L550.45,168.40 L550.97,168.51 L551.49,168.55 L552.01,168.51 L552.53,168.40 L553.05,168.21 L553.57,167.95 L554.10,167.62 L554.62,167.21 L555.14,166.73 L555.66,166.19 L556.18,165.58 L556.70,164.90 L557.22,164.17 L557.74,163.38 L558.26,162.53 L558.78,161.63 L559.30,160.68 L559.82,159.69 L560.34,158.66 L560.86,157.59 L561.38,156.49 L561.90,155.36 L562.42,154.21 L562.94,153.04 L563.46,151.86 L563.98,150.66 L564.50,149.46" fill="none" stroke="#e41fe4" stroke-width="1.9"/>
<path d="M356.40,149.46 L356.92,146.84 L357.44,144.23 L357.96,141.64 L358.48,139.07 L359.00,136.55 L359.52,134.09 L360.04,131.68 L360.56,129.34 L361.08,127.08 L361.60,124.91 L362.12,122.84 L362.64,120.87 L363.16,119.01 L363.68,117.28 L364.20,115.67 L364.72,114.19 L365.24,112.86 L365.76,111.67 L366.28,110.62 L366.80,109.74 L367.33,109.00 L367.85,108.43 L368.37,108.02 L368.89,107.77 L369.41,107.69 L369.93,107.77 L370.45,108.02 L370.97,108.43 L371.49,109.00 L372.01,109.74 L372.53,110.62 L373.05,111.67 L373.57,112.86 L374.09,114.19 L374.61,115.67 L375.13,117.28 L375.65,119.01 L376.17,120.87 L376.69,122.84 L377.21,124.91 L377.73,127.08 L378.25,129.34 L378.77,131.68 L379.29,134.09 L379.81,136.55 L380.33,139.07 L380.85,141.64 L381.37,144.23 L381.89,146.84 L382.41,149.46 L382.93,152.09 L383.45,154.70 L383.97,157.29 L384.49,159.85 L385.01,162.37 L385.53,164.84 L386.05,167.25 L386.57,169.59 L387.09,171.85 L387.62,174.02 L388.14,176.09 L388.66,178.06 L389.18,179.91 L389.70,181.65 L390.22,183.26 L390.74,184.73 L391.26,186.07 L391.78,187.26 L392.30,188.30 L392.82,189.19 L393.34,189.92 L393.86,190.50 L394.38,190.91 L394.90,191.15 L395.42,191.24 L395.94,191.15 L396.46,190.91 L396.98,190.50 L397.50,189.92 L398.02,189.19 L398.54,188.30 L399.06,187.26 L399.58,186.07 L400.10,184.73 L400.62,183.26 L401.14,181.65 L401.66,179.91 L402.18,178.06 L402.70,176.09 L403.22,174.02 L403.74,171.85 L404.26,169.59 L404.78,167.25 L405.30,164.84 L405.82,162.37 L406.34,159.85 L406.86,157.29 L407.38,154.70 L407.90,152.09 L408.42,149.46 L408.95,146.84 L409.47,144.23 L409.99,141.64 L410.51,139.07 L411.03,136.55 L411.55,134.09 L412.07,131.68 L412.59,129.34 L413.11,127.08 L413.63,124.91 L414.15,122.84 L414.67,120.87 L415.19,119.01 L415.71,117.28 L416.23,115.67 L416.75,114.19 L417.27,112.86 L417.79,111.67 L418.31,110.62 L418.83,109.74 L419.35,109.00 L419.87,108.43 L420.39,108.02 L420.91,107.77 L421.43,107.69 L421.95,107.77 L422.47,108.02 L422.99,108.43 L423.51,109.00 L424.03,109.74 L424.55,110.62 L425.07,111.67 L425.59,112.86 L426.11,114.19 L426.63,115.67 L427.15,117.28 L427.67,119.01 L428.19,120.87 L428.71,122.84 L429.24,124.91 L429.76,127.08 L430.28,129.34 L430.80,131.68 L431.32,134.09 L431.84,136.55 L432.36,139.07 L432.88,141.64 L433.40,144.23 L433.92,146.84 L434.44,149.46 L434.96,152.09 L435.48,154.70 L436.00,157.29 L436.52,159.85 L437.04,162.37 L437.56,164.84 L438.08,167.25 L438.60,169.59 L439.12,171.85 L439.64,174.02 L440.16,176.09 L440.68,178.06 L441.20,179.91 L441.72,181.65 L442.24,183.26 L442.76,184.73 L443.28,186.07 L443.80,187.26 L444.32,188.30 L444.84,189.19 L445.36,189.92 L445.88,190.50 L446.40,190.91 L446.92,191.15 L447.44,191.24 L447.96,191.15 L448.48,190.91 L449.00,190.50 L449.52,189.92 L450.04,189.19 L450.57,188.30 L451.09,187.26 L451.61,186.07 L452.13,184.73 L452.65,183.26 L453.17,181.65 L453.69,179.91 L454.21,178.06 L454.73,176.09 L455.25,174.02 L455.77,171.85 L456.29,169.59 L456.81,167.25 L457.33,164.84 L457.85,162.37 L458.37,159.85 L458.89,157.29 L459.41,154.70 L459.93,152.09 L460.45,149.46 L460.97,146.84 L461.49,144.23 L462.01,141.64 L462.53,139.07 L463.05,136.55 L463.57,134.09 L464.09,131.68 L464.61,129.34 L465.13,127.08 L465.65,124.91 L466.17,122.84 L466.69,120.87 L467.21,119.01 L467.73,117.28 L468.25,115.67 L468.77,114.19 L469.29,112.86 L469.81,111.67 L470.33,110.62 L470.86,109.74 L471.38,109.00 L471.90,108.43 L472.42,108.02 L472.94,107.77 L473.46,107.69 L473.98,107.77 L474.50,108.02 L475.02,108.43 L475.54,109.00 L476.06,109.74 L476.58,110.62 L477.10,111.67 L477.62,112.86 L478.14,114.19 L478.66,115.67 L479.18,117.28 L479.70,119.01 L480.22,120.87 L480.74,122.84 L481.26,124.91 L481.78,127.08 L482.30,129.34 L482.82,131.68 L483.34,134.09 L483.86,136.55 L484.38,139.07 L484.90,141.64 L485.42,144.23 L485.94,146.84 L486.46,149.46 L486.98,152.09 L487.50,154.70 L488.02,157.29 L488.54,159.85 L489.06,162.37 L489.58,164.84 L490.10,167.25 L490.62,169.59 L491.14,171.85 L491.66,174.02 L492.19,176.09 L492.71,178.06 L493.23,179.91 L493.75,181.65 L494.27,183.26 L494.79,184.73 L495.31,186.07 L495.83,187.26 L496.35,188.30 L496.87,189.19 L497.39,189.92 L497.91,190.50 L498.43,190.91 L498.95,191.15 L499.47,191.24 L499.99,191.15 L500.51,190.91 L501.03,190.50 L501.55,189.92 L502.07,189.19 L502.59,188.30 L503.11,187.26 L503.63,186.07 L504.15,184.73 L504.67,183.26 L505.19,181.65 L505.71,179.91 L506.23,178.06 L506.75,176.09 L507.27,174.02 L507.79,171.85 L508.31,169.59 L508.83,167.25 L509.35,164.84 L509.87,162.37 L510.39,159.85 L510.91,157.29 L511.43,154.70 L511.95,152.09 L512.48,149.46 L513.00,146.84 L513.52,144.23 L514.04,141.64 L514.56,139.07 L515.08,136.55 L515.60,134.09 L516.12,131.68 L516.64,129.34 L517.16,127.08 L517.68,124.91 L518.20,122.84 L518.72,120.87 L519.24,119.01 L519.76,117.28 L520.28,115.67 L520.80,114.19 L521.32,112.86 L521.84,111.67 L522.36,110.62 L522.88,109.74 L523.40,109.00 L523.92,108.43 L524.44,108.02 L524.96,107.77 L525.48,107.69 L526.00,107.77 L526.52,108.02 L527.04,108.43 L527.56,109.00 L528.08,109.74 L528.60,110.62 L529.12,111.67 L529.64,112.86 L530.16,114.19 L530.68,115.67 L531.20,117.28 L531.72,119.01 L532.24,120.87 L532.76,122.84 L533.28,124.91 L533.81,127.08 L534.33,129.34 L534.85,131.68 L535.37,134.09 L535.89,136.55 L536.41,139.07 L536.93,141.64 L537.45,144.23 L537.97,146.84 L538.49,149.46 L539.01,152.09 L539.53,154.70 L540.05,157.29 L540.57,159.85 L541.09,162.37 L541.61,164.84 L542.13,167.25 L542.65,169.59 L543.17,171.85 L543.69,174.02 L544.21,176.09 L544.73,178.06 L545.25,179.91 L545.77,181.65 L546.29,183.26 L546.81,184.73 L547.33,186.07 L547.85,187.26 L548.37,188.30 L548.89,189.19 L549.41,189.92 L549.93,190.50 L550.45,190.91 L550.97,191.15 L551.49,191.24 L552.01,191.15 L552.53,190.91 L553.05,190.50 L553.57,189.92 L554.10,189.19 L554.62,188.30 L555.14,187.26 L555.66,186.07 L556.18,184.73 L556.70,183.26 L557.22,181.65 L557.74,179.91 L558.26,178.06 L558.78,176.09 L559.30,174.02 L559.82,171.85 L560.34,169.59 L560.86,167.25 L561.38,164.84 L561.90,162.37 L562.42,159.85 L562.94,157.29 L563.46,154.70 L563.98,152.09 L564.50,149.46" fill="none" stroke="#e41fe4" stroke-width="1.7" stroke-dasharray="6.5 1.8 1.3 1.8 1.3 1.8"/>
<rect x="448.2" y="197.2" width="116.30" height="43.5" fill="#c8c8c8"/>
<line x1="449" y1="219.5" x2="564.5" y2="219.5" stroke="#b4b4c0" stroke-width="1.3" stroke-dasharray="5 3"/>
<line x1="452.7" y1="206.3" x2="497.3" y2="206.3" stroke="#e80f0f" stroke-width="1.3"/>
<line x1="452.7" y1="214.6" x2="497.3" y2="214.6" stroke="#e41fe4" stroke-width="1.4"/>
<line x1="452.7" y1="223.1" x2="497.3" y2="223.1" stroke="#e41fe4" stroke-width="1.4" stroke-dasharray="7.3 1.5 1.5 1.5 1.5 1.5"/>
<line x1="452.7" y1="231.2" x2="497.3" y2="231.2" stroke="#1f8585" stroke-width="1.3"/>
<text x="0" y="0" font-size="7.3" fill="#e02020" font-weight="bold" font-style="italic" text-anchor="start" stroke="#e02020" stroke-width="0.25" transform="translate(507.50,208.80) scale(1,1.1)">30% DR, 1.5dB</text>
<text x="0" y="0" font-size="7.3" fill="#e41fe4" font-weight="bold" font-style="italic" text-anchor="start" stroke="#e41fe4" stroke-width="0.25" transform="translate(507.50,217.20) scale(1,1.1)">50% DR,1.5dB</text>
<text x="0" y="0" font-size="7.3" fill="#e41fe4" font-weight="bold" font-style="italic" text-anchor="start" stroke="#e41fe4" stroke-width="0.25" transform="translate(507.50,225.30) scale(1,1.1)">50% DR, 3dB</text>
<text x="0" y="0" font-size="7.3" fill="#1f8080" font-weight="bold" font-style="italic" text-anchor="start" stroke="#1f8080" stroke-width="0.25" transform="translate(507.50,233.50) scale(1,1.1)">70% DR, 1.5dB</text>
<g stroke="#000" stroke-width="2.2" fill="none">
<path d="M356.4,58.5 V255.6 M564.5,58.5 V255.6 M351.4,63.5 H569.5 M351.4,250.6 H569.5"/>
<path d="M351.4,250.72 H356.4 M564.5,250.72 H569.5"/>
<path d="M351.4,219.56 H356.4 M564.5,219.56 H569.5"/>
<path d="M351.4,188.41 H356.4 M564.5,188.41 H569.5"/>
<path d="M351.4,157.25 H356.4 M564.5,157.25 H569.5"/>
<path d="M351.4,126.10 H356.4 M564.5,126.10 H569.5"/>
<path d="M351.4,94.94 H356.4 M564.5,94.94 H569.5"/>
<path d="M351.4,63.78 H356.4 M564.5,63.78 H569.5"/>
<path d="M356.40,58.5 V63.5 M356.40,250.6 V255.6" stroke-width="2.2"/>
<path d="M366.80,60.9 V63.5 M366.80,250.6 V253.2" stroke-width="1.4"/>
<path d="M377.21,60.9 V63.5 M377.21,250.6 V253.2" stroke-width="1.4"/>
<path d="M387.62,60.9 V63.5 M387.62,250.6 V253.2" stroke-width="1.4"/>
<path d="M398.02,60.9 V63.5 M398.02,250.6 V253.2" stroke-width="1.4"/>
<path d="M408.42,58.5 V63.5 M408.42,250.6 V255.6" stroke-width="2.2"/>
<path d="M418.83,60.9 V63.5 M418.83,250.6 V253.2" stroke-width="1.4"/>
<path d="M429.24,60.9 V63.5 M429.24,250.6 V253.2" stroke-width="1.4"/>
<path d="M439.64,60.9 V63.5 M439.64,250.6 V253.2" stroke-width="1.4"/>
<path d="M450.04,60.9 V63.5 M450.04,250.6 V253.2" stroke-width="1.4"/>
<path d="M460.45,58.5 V63.5 M460.45,250.6 V255.6" stroke-width="2.2"/>
<path d="M470.86,60.9 V63.5 M470.86,250.6 V253.2" stroke-width="1.4"/>
<path d="M481.26,60.9 V63.5 M481.26,250.6 V253.2" stroke-width="1.4"/>
<path d="M491.66,60.9 V63.5 M491.66,250.6 V253.2" stroke-width="1.4"/>
<path d="M502.07,60.9 V63.5 M502.07,250.6 V253.2" stroke-width="1.4"/>
<path d="M512.48,58.5 V63.5 M512.48,250.6 V255.6" stroke-width="2.2"/>
<path d="M522.88,60.9 V63.5 M522.88,250.6 V253.2" stroke-width="1.4"/>
<path d="M533.28,60.9 V63.5 M533.28,250.6 V253.2" stroke-width="1.4"/>
<path d="M543.69,60.9 V63.5 M543.69,250.6 V253.2" stroke-width="1.4"/>
<path d="M554.10,60.9 V63.5 M554.10,250.6 V253.2" stroke-width="1.4"/>
<path d="M564.50,58.5 V63.5 M564.50,250.6 V255.6" stroke-width="2.2"/>
</g>
<text x="346.40" y="254.52" font-size="10" fill="#111" font-weight="normal" font-style="normal" text-anchor="end" >0</text>
<text x="346.40" y="223.36" font-size="10" fill="#111" font-weight="normal" font-style="normal" text-anchor="end" >100</text>
<text x="346.40" y="192.21" font-size="10" fill="#111" font-weight="normal" font-style="normal" text-anchor="end" >200</text>
<text x="346.40" y="161.05" font-size="10" fill="#111" font-weight="normal" font-style="normal" text-anchor="end" >300</text>
<text x="346.40" y="129.90" font-size="10" fill="#111" font-weight="normal" font-style="normal" text-anchor="end" >400</text>
<text x="346.40" y="98.74" font-size="10" fill="#111" font-weight="normal" font-style="normal" text-anchor="end" >500</text>
<text x="346.40" y="67.58" font-size="10" fill="#111" font-weight="normal" font-style="normal" text-anchor="end" >600</text>
<text x="356.40" y="269.80" font-size="10" fill="#111" font-weight="normal" font-style="normal" text-anchor="middle" >0.0</text>
<text x="408.42" y="269.80" font-size="10" fill="#111" font-weight="normal" font-style="normal" text-anchor="middle" >0.5</text>
<text x="460.45" y="269.80" font-size="10" fill="#111" font-weight="normal" font-style="normal" text-anchor="middle" >1.0</text>
<text x="512.48" y="269.80" font-size="10" fill="#111" font-weight="normal" font-style="normal" text-anchor="middle" >1.5</text>
<text x="564.50" y="269.80" font-size="10" fill="#111" font-weight="normal" font-style="normal" text-anchor="middle" >2.0</text>
<text x="460.50" y="280.80" font-size="11.5" fill="#111" font-weight="bold" font-style="normal" text-anchor="middle" >Time [s]</text>
<text x="0.00" y="0.00" font-size="11.6" fill="#111" font-weight="bold" font-style="normal" text-anchor="middle" transform="translate(320.4,157) rotate(-90)">Modulation signal [&#956;A]</text>
<text x="309.00" y="18.50" font-size="17.2" fill="#111" font-weight="bold" font-style="normal" text-anchor="start" >(b)</text>
</svg>
</body></html>
